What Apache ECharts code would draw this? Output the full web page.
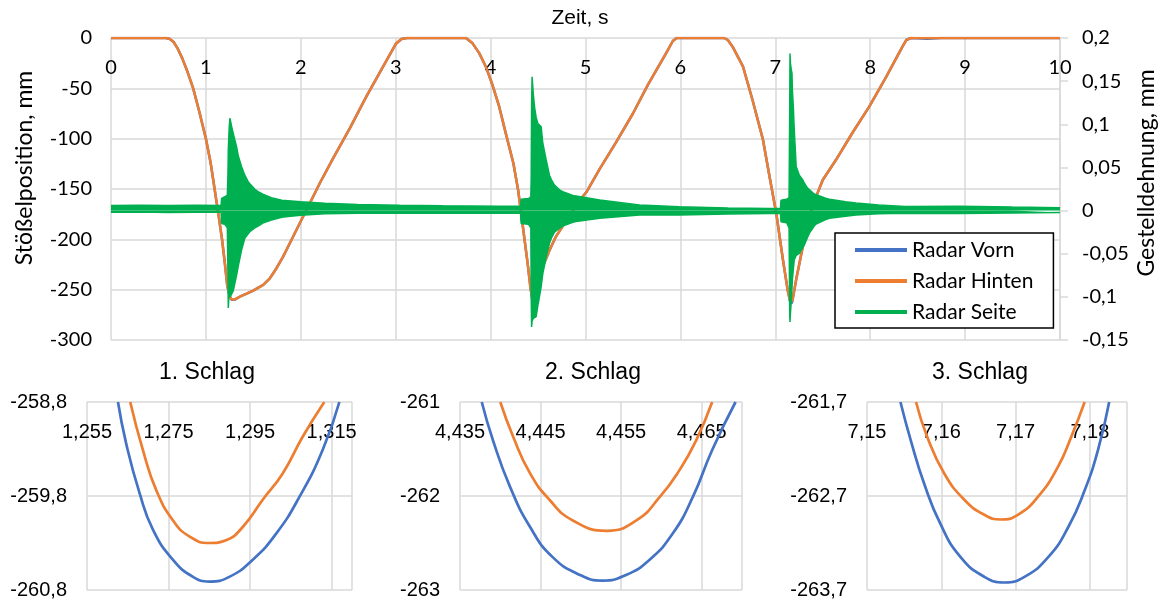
<!DOCTYPE html>
<html><head><meta charset="utf-8">
<script src="https://cdn.jsdelivr.net/npm/echarts@6/dist/echarts.min.js"></script>
<style>html,body{margin:0;padding:0;background:#fff}#c{width:1160px;height:601px}</style>
</head><body><div id="c"></div>
<script>
// ---------- data ----------
const seriesNames = ['Radar Vorn', 'Radar Hinten', 'Radar Seite'];
const mainXTitle = 'Zeit, s';
const leftYTitle = 'Stößelposition, mm';
const rightYTitle = 'Gestelldehnung, mm';
const insetTitles = ['1. Schlag', '2. Schlag', '3. Schlag'];

// Stößelposition (mm) over time (s)
const radarHinten = [[0,0],[0.58,0],[0.62,-1],[0.66,-4],[0.7,-10],[0.75,-20],[0.8,-32],[0.866,-50],[0.93,-73],[1.0,-100],[1.05,-124],[1.09,-149],[1.13,-174],[1.17,-200],[1.2,-224],[1.225,-246],[1.25,-256],[1.27,-259.6],[1.285,-260.4],[1.3,-259.8],[1.358,-256.9],[1.43,-254],[1.498,-250.9],[1.604,-245.3],[1.674,-238.7],[1.744,-228.7],[1.814,-217.2],[1.884,-203.9],[1.989,-184],[2.095,-164.2],[2.2,-144.3],[2.34,-119.5],[2.516,-89.7],[2.69,-58.3],[2.867,-28.5],[3.0,-6],[3.06,-1],[3.12,0],
[3.74,0],[3.81,-5.3],[3.88,-15],[3.95,-28.5],[4.02,-46.7],[4.09,-68],[4.16,-94.7],[4.24,-124.4],[4.29,-151],[4.34,-187.4],[4.39,-223.7],[4.42,-248],[4.44,-259.5],[4.454,-262.4],[4.47,-259],[4.48,-252],[4.52,-238],[4.55,-227],[4.62,-211],[4.69,-197],[4.8,-181],[4.94,-161],[5.01,-153],[5.15,-130],[5.32,-104],[5.5,-75],[5.66,-46],[5.85,-15],[5.92,-3],[5.96,0],
[6.46,0],[6.5,-2],[6.55,-8.6],[6.66,-28.5],[6.76,-61.6],[6.87,-101],[6.94,-138],[7.01,-174],[7.08,-220],[7.13,-250],[7.155,-261],[7.169,-262.95],[7.18,-261],[7.22,-240],[7.29,-207],[7.36,-177.5],[7.43,-157.6],[7.5,-141],[7.64,-121],[7.81,-94.6],[7.99,-68.2],[8.17,-38.4],[8.34,-8.6],[8.38,-2],[8.43,0],[10,0]];

const radarVorn = [[0,0],[0.58,0],[0.62,-1],[0.66,-4],[0.7,-10],[0.75,-20],[0.8,-32],[0.866,-50],[0.93,-73],[1.0,-100],[1.05,-124],[1.09,-149],[1.13,-174],[1.17,-200],[1.2,-224],[1.225,-246],[1.25,-256.3],[1.27,-260],[1.285,-260.7],[1.3,-260.1],[1.358,-257],[1.43,-254],[1.498,-250.9],[1.604,-245.3],[1.674,-238.7],[1.744,-228.7],[1.814,-217.2],[1.884,-203.9],[1.989,-184],[2.095,-164.2],[2.2,-144.3],[2.34,-119.5],[2.516,-89.7],[2.69,-58.3],[2.867,-28.5],[3.0,-6],[3.06,-1],[3.12,0],
[3.74,0],[3.81,-5.3],[3.88,-15],[3.95,-28.5],[4.02,-46.7],[4.09,-68],[4.16,-94.7],[4.24,-124.4],[4.29,-151],[4.34,-187.4],[4.39,-223.7],[4.42,-248.3],[4.44,-260],[4.454,-262.9],[4.47,-259.4],[4.48,-252.2],[4.52,-238],[4.55,-227],[4.62,-211],[4.69,-197],[4.8,-181],[4.94,-161],[5.01,-153],[5.15,-130],[5.32,-104],[5.5,-75],[5.66,-46],[5.85,-15],[5.92,-3],[5.96,0],
[6.46,0],[6.5,-2],[6.55,-8.6],[6.66,-28.5],[6.76,-61.6],[6.87,-101],[6.94,-138],[7.01,-174],[7.08,-220],[7.13,-250.3],[7.155,-261.5],[7.169,-263.6],[7.18,-261.4],[7.22,-240],[7.29,-207],[7.36,-177.5],[7.43,-157.6],[7.5,-141],[7.64,-121],[7.81,-94.6],[7.99,-68.2],[8.17,-38.4],[8.34,-8.6],[8.38,-2],[8.43,0],[8.6,-0.8],[8.75,0],[10,0]];

// Gestelldehnung (mm): envelope of the dense oscillation
const seiteTime  = [0,0.3,0.6,0.9,1.16,1.166,1.2,1.226,1.232,1.236,1.245,1.253,1.27,1.288,1.305,1.323,1.34,1.375,1.41,1.445,1.463,1.516,1.55,1.6,1.69,1.8,1.866,2.0,2.253,2.6,3.04,3.5,4.09,4.315,4.322,4.4,4.424,4.428,4.432,4.437,4.45,4.463,4.48,4.498,4.508,4.533,4.55,4.586,4.62,4.64,4.673,4.726,4.76,4.866,4.9,5.15,5.57,5.99,6.5,6.94,7.055,7.06,7.12,7.145,7.152,7.155,7.16,7.169,7.176,7.18,7.19,7.2,7.22,7.253,7.29,7.305,7.34,7.358,7.41,7.43,7.53,7.57,7.74,7.85,8.09,8.37,8.94,9.5,10];
const seiteUpper = [0.006,0.0062,0.0058,0.0062,0.006,0.014,0.016,0.018,0.04,0.07,0.095,0.107,0.098,0.0895,0.082,0.074,0.064,0.051,0.041,0.0335,0.031,0.0246,0.022,0.019,0.015,0.012,0.0115,0.0103,0.0084,0.007,0.0061,0.0055,0.005,0.005,0.013,0.014,0.016,0.04,0.12,0.155,0.135,0.12,0.108,0.101,0.099,0.097,0.078,0.0586,0.041,0.036,0.0296,0.024,0.022,0.0175,0.017,0.0122,0.0066,0.0043,0.003,0.0024,0.0024,0.012,0.013,0.015,0.12,0.182,0.17,0.163,0.159,0.14,0.12,0.093,0.051,0.041,0.0355,0.032,0.026,0.024,0.0192,0.018,0.0142,0.0132,0.0103,0.0088,0.0065,0.0046,0.0051,0.004,0.0032];
const seiteLower = [-0.002,-0.0018,-0.0021,-0.0019,-0.002,-0.015,-0.016,-0.02,-0.07,-0.113,-0.095,-0.1,-0.097,-0.093,-0.092,-0.075,-0.065,-0.046,-0.032,-0.027,-0.0245,-0.02,-0.018,-0.0145,-0.011,-0.0078,-0.007,-0.0055,-0.0038,-0.0032,-0.0031,-0.003,-0.003,-0.003,-0.015,-0.016,-0.02,-0.1,-0.135,-0.128,-0.125,-0.124,-0.123,-0.11,-0.104,-0.088,-0.073,-0.0535,-0.038,-0.032,-0.025,-0.0205,-0.018,-0.0136,-0.0128,-0.009,-0.0051,-0.005,-0.004,-0.0033,-0.0033,-0.013,-0.014,-0.02,-0.12,-0.129,-0.118,-0.104,-0.09,-0.08,-0.068,-0.057,-0.052,-0.0495,-0.043,-0.04,-0.031,-0.0264,-0.018,-0.0156,-0.0105,-0.009,-0.0065,-0.005,-0.0038,-0.003,-0.0034,-0.0028,-0.0022];

// zoomed impacts
const schlag1Vorn   = [[1.2626,-258.8],[1.2646,-259.24],[1.2679,-259.77],[1.2712,-260.16],[1.2761,-260.48],[1.281,-260.66],[1.285,-260.71],[1.2899,-260.66],[1.2956,-260.48],[1.3014,-260.2],[1.3071,-259.81],[1.3128,-259.31],[1.3169,-258.8]];
const schlag1Hinten = [[1.2656,-258.8],[1.2687,-259.31],[1.272,-259.74],[1.2761,-260.06],[1.2801,-260.23],[1.285,-260.30],[1.2891,-260.27],[1.2932,-260.13],[1.2981,-259.84],[1.303,-259.56],[1.3079,-259.17],[1.3132,-258.8]];
const schlag2Vorn   = [[4.4377,-261],[4.4391,-261.41],[4.4412,-261.9],[4.4437,-262.33],[4.4465,-262.65],[4.4499,-262.84],[4.4527,-262.9],[4.4556,-262.84],[4.4585,-262.68],[4.4614,-262.4],[4.4639,-262.01],[4.4663,-261.51],[4.4692,-261]];
const schlag2Hinten = [[4.44,-261],[4.4416,-261.37],[4.4437,-261.76],[4.4461,-262.04],[4.449,-262.26],[4.4532,-262.37],[4.4569,-262.26],[4.4598,-262.01],[4.4622,-261.73],[4.4643,-261.41],[4.4663,-261]];
const schlag3Vorn   = [[7.1545,-261.7],[7.1559,-262.11],[7.1577,-262.57],[7.1599,-263],[7.1626,-263.35],[7.1658,-263.56],[7.1685,-263.62],[7.1712,-263.56],[7.1744,-263.35],[7.1771,-263.03],[7.1793,-262.64],[7.1811,-262.21],[7.1826,-261.7]];
const schlag3Hinten = [[7.1566,-261.7],[7.1581,-262.07],[7.1604,-262.46],[7.1631,-262.74],[7.1658,-262.9],[7.168,-262.95],[7.1703,-262.9],[7.173,-262.71],[7.1757,-262.39],[7.1775,-262.07],[7.1793,-261.7]];

// axis ranges of the three zoom panels
const insetXMin = [1.255, 4.435, 7.15];
const insetXMax = [1.32, 4.47, 7.185];
const insetXStep = [0.02, 0.01, 0.01];
const insetXDec = [3, 3, 2];
const insetYMin = [-260.8, -263, -263.7];
const insetYMax = [-258.8, -261, -261.7];
const insetYDec = [1, 0, 1];

// ---------- chart ----------
const C_BLUE = '#4472C4', C_ORANGE = '#ED7D31', C_GREEN = '#00B050';
const GRID = '#d9d9d9';
const F_MAIN = 'Lato, "Open Sans", sans-serif';
const F_ARIAL = '"Liberation Sans", Arial, sans-serif';
const comma = (s) => s.replace('.', ',');

const seite = (arr) => seiteTime.map((t, i) => [t, arr[i]]);

const insetGrids = [
  {left: 87, top: 402, width: 265, height: 188},
  {left: 460, top: 402, width: 282, height: 188},
  {left: 867, top: 402, width: 260, height: 188}
];
const insetData = [[schlag1Vorn, schlag1Hinten],[schlag2Vorn, schlag2Hinten],[schlag3Vorn, schlag3Hinten]];

const grids = [{left: 111, top: 38, width: 949, height: 302}].concat(insetGrids);

const xAxes = [{
  type: 'value', gridIndex: 0, position: 'top', min: 0, max: 10, interval: 1,
  axisLine: {show: false, onZero: false}, axisTick: {show: false},
  axisLabel: {inside: true, margin: 20, fontSize: 20, fontFamily: F_MAIN, color: '#000'},
  splitLine: {show: true, lineStyle: {color: GRID, width: 1.5}}
}];
const yAxes = [{
  type: 'value', gridIndex: 0, min: -300, max: 0, interval: 50,
  axisLine: {show: false}, axisTick: {show: false},
  axisLabel: {margin: 19, fontSize: 20, fontFamily: F_MAIN, color: '#000'},
  splitLine: {show: true, lineStyle: {color: GRID, width: 1.5}}
},{
  type: 'value', gridIndex: 0, position: 'right', min: -0.15, max: 0.2, interval: 0.05,
  axisLine: {show: true, lineStyle: {color: GRID, width: 1.5}},
  axisTick: {show: true, length: 8, lineStyle: {color: GRID, width: 1.5}},
  axisLabel: {margin: 22, fontSize: 20, fontFamily: F_MAIN, color: '#000',
    formatter: (v) => comma(String(+v.toFixed(2)))},
  splitLine: {show: false}
}];
const series = [
  {name: seriesNames[0], type: 'line', xAxisIndex: 0, yAxisIndex: 0, data: radarVorn, symbol: 'none', color: C_BLUE, lineStyle: {width: 2.5, color: C_BLUE}, z: 2},
  {name: seriesNames[1], type: 'line', xAxisIndex: 0, yAxisIndex: 0, data: radarHinten, symbol: 'none', color: C_ORANGE, lineStyle: {width: 2.5, color: C_ORANGE}, z: 3},
  {name: seriesNames[2], type: 'line', xAxisIndex: 0, yAxisIndex: 1, data: seite(seiteUpper), symbol: 'none', color: C_GREEN, lineStyle: {width: 1.5, color: C_GREEN}, areaStyle: {color: C_GREEN, opacity: 1}, z: 4},
  {name: seriesNames[2], type: 'line', xAxisIndex: 0, yAxisIndex: 1, data: seite(seiteLower), symbol: 'none', color: C_GREEN, lineStyle: {width: 1.5, color: C_GREEN}, areaStyle: {color: C_GREEN, opacity: 1}, z: 4}
];

for (let k = 0; k < 3; k++) {
  const x0 = insetXMin[k], y0 = insetYMin[k];
  xAxes.push({
    type: 'value', gridIndex: k + 1, position: 'top', min: 0, max: +(insetXMax[k] - x0).toFixed(4), interval: insetXStep[k],
    axisLine: {show: false, onZero: false}, axisTick: {show: false},
    axisLabel: {inside: true, margin: 20, fontSize: 20, fontFamily: F_ARIAL, color: '#000',
      formatter: (v) => comma((v + x0).toFixed(insetXDec[k]))},
    splitLine: {show: true, lineStyle: {color: GRID, width: 1.5}}
  });
  yAxes.push({
    type: 'value', gridIndex: k + 1, min: 0, max: +(insetYMax[k] - y0).toFixed(4), interval: 1,
    axisLine: {show: false}, axisTick: {show: false},
    axisLabel: {margin: 20, fontSize: 20, fontFamily: F_ARIAL, color: '#000',
      formatter: (v) => comma((v + y0).toFixed(insetYDec[k]))},
    splitLine: {show: true, lineStyle: {color: GRID, width: 1.5}}
  });
  const shift = (d) => d.map(([t, v]) => [t - x0, v - y0]);
  series.push(
    {name: seriesNames[0], type: 'line', xAxisIndex: k + 1, yAxisIndex: k + 2, data: shift(insetData[k][0]), smooth: true, symbol: 'none', color: C_BLUE, lineStyle: {width: 2.7, color: C_BLUE}},
    {name: seriesNames[1], type: 'line', xAxisIndex: k + 1, yAxisIndex: k + 2, data: shift(insetData[k][1]), smooth: true, symbol: 'none', color: C_ORANGE, lineStyle: {width: 2.7, color: C_ORANGE}}
  );
}

const txt = (text, x, y, size, family, rot) => ({
  type: 'text', x: x, y: y, rotation: rot || 0, z: 10,
  style: {text: text, fontSize: size, fontFamily: family, fill: '#000', align: 'center', verticalAlign: 'middle'}
});

const option = {
  animation: false,
  backgroundColor: '#fff',
  grid: grids,
  xAxis: xAxes,
  yAxis: yAxes,
  series: series,
  legend: {
    data: seriesNames, orient: 'vertical', left: 835, top: 233,
    icon: 'rect', itemWidth: 52, itemHeight: 4, itemGap: 9,
    padding: [6, 20, 5, 20],
    backgroundColor: '#fff', borderColor: '#000', borderWidth: 1.5, borderRadius: 0,
    selectedMode: false,
    textStyle: {fontSize: 21, fontFamily: F_MAIN, color: '#000', lineHeight: 22}
  },
  graphic: [
    txt(mainXTitle, 580, 18, 21, F_ARIAL),
    txt(leftYTitle, 25, 168, 23, F_MAIN, Math.PI / 2),
    txt(rightYTitle, 1147, 173, 23, F_MAIN, Math.PI / 2),
    txt(insetTitles[0], 207, 373, 23, F_ARIAL),
    txt(insetTitles[1], 593, 373, 23, F_ARIAL),
    txt(insetTitles[2], 980, 373, 23, F_ARIAL)
  ]
};
const chart = echarts.init(document.getElementById('c'), null, {renderer: 'canvas'});
chart.setOption(option);
</script></body></html>
